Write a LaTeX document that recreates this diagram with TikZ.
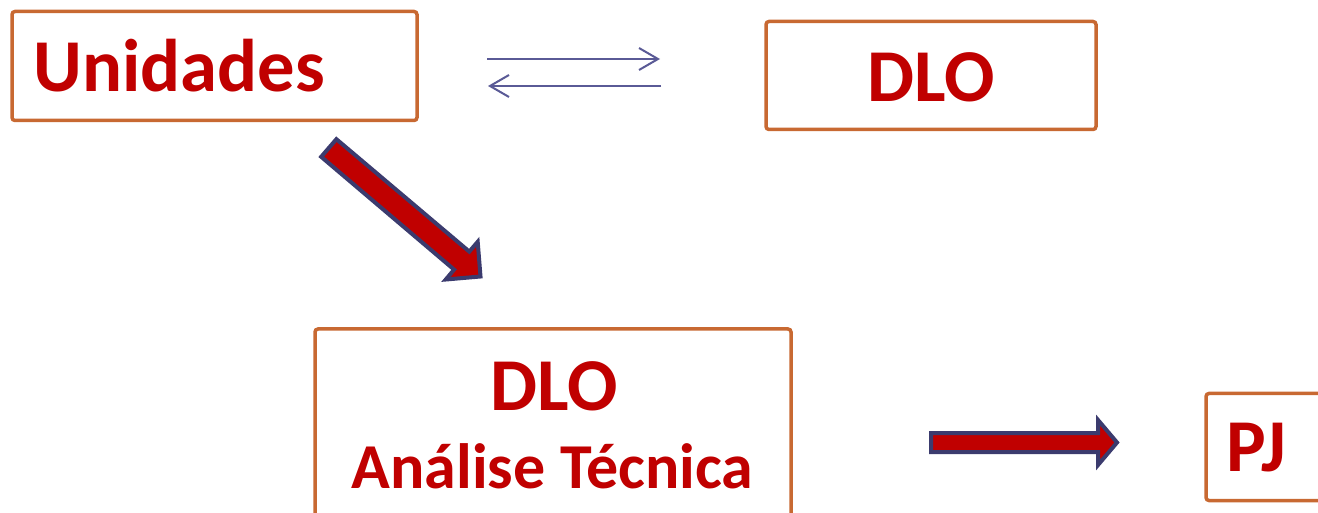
\documentclass[tikz,border=0pt]{standalone}
\usepackage{fontspec}
\setmainfont{Carlito}
\usetikzlibrary{arrows.meta}
\definecolor{txtred}{RGB}{192,0,0}
\definecolor{boxorange}{RGB}{200,105,50}
\definecolor{navyline}{RGB}{59,59,110}
\definecolor{thinarr}{RGB}{90,90,150}
\begin{document}
\begin{tikzpicture}[x=0.5pt,y=-0.5pt,
  boxshape/.style={draw=boxorange, line width=1.75pt, rounded corners=1.5pt, inner sep=0pt, rectangle},
  bigtext/.style={text=txtred, inner sep=0pt, font=\bfseries\fontsize{37.3}{39}\selectfont},
  midtext/.style={text=txtred, inner sep=0pt, font=\bfseries\fontsize{32}{34}\selectfont},
  blockarrow/.style={draw=navyline, fill=txtred, line width=2pt, line join=miter},
  thinarrow/.style={draw=thinarr, line width=1pt, -{Straight Barb[length=9.5pt,width=11pt]}}]
\useasboundingbox (0,0) rectangle (1318,513);
\clip (0,0) rectangle (1318,513);
% boxes
\node[boxshape, minimum width=202.5pt, minimum height=54.5pt] (unidbox) at (214.5,66) {};
\node[boxshape, minimum width=165pt, minimum height=54pt] (dlobox) at (931,75.5) {};
\node[boxshape, minimum width=238pt, minimum height=100pt] (anbox) at (553,429) {};
\node[boxshape, minimum width=80pt, minimum height=53.5pt] (pjbox) at (1286,447) {};
% texts
\node[bigtext, anchor=base west] (unidtxt) at (33,92) {Unidades};
\node[bigtext, anchor=base] (dlotxt) at (931,102) {DLO};
\node[bigtext, anchor=base] (dlo2txt) at (554,410) {DLO};
\node[midtext, anchor=base] (antxt) at (552.5,488) {Análise Técnica};
\node[bigtext, anchor=base west] (pjtxt) at (1226,472) {PJ};
% thin arrows
\coordinate (t1s) at (487,59);
\coordinate (t1e) at (660,59);
\coordinate (t2s) at (661,86);
\coordinate (t2e) at (488,86);
\draw[thinarrow] (t1s) -- (t1e);
\draw[thinarrow] (t2s) -- (t2e);
% diagonal block arrow
\draw[blockarrow] (321.2,156.8) -- (454.1,269.6) -- (445.8,279.5) -- (480.5,276.5)
  -- (477.7,241.8) -- (469.3,251.6) -- (336.4,139.2) -- cycle;
% horizontal block arrow
\draw[blockarrow] (931,433) -- (1098,433) -- (1098,420) -- (1117,442.5)
  -- (1098,465) -- (1098,452) -- (931,452) -- cycle;
\end{tikzpicture}
\end{document}
